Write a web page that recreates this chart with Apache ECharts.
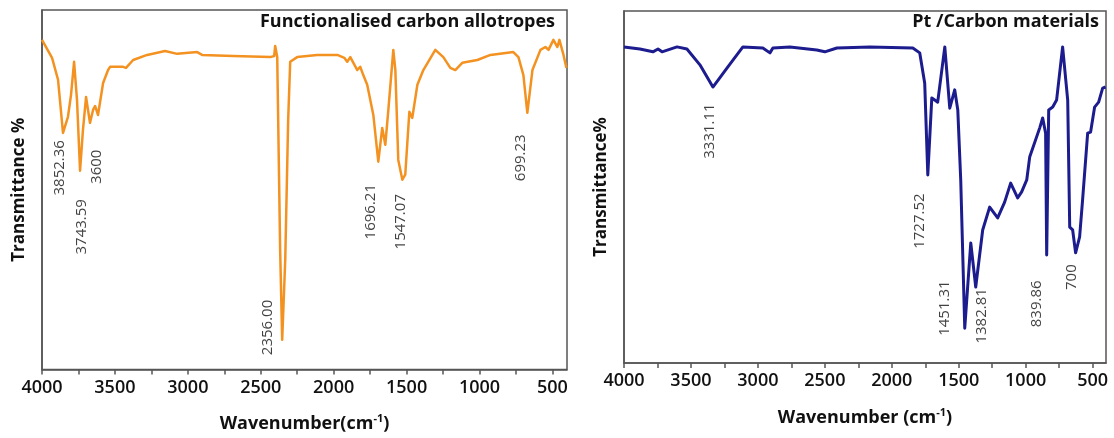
<!DOCTYPE html>
<html>
<head>
<meta charset="utf-8">
<title>FTIR spectra</title>
<script src="https://cdn.jsdelivr.net/npm/echarts@6/dist/echarts.min.js"></script>
<style>
  html, body { margin: 0; padding: 0; background: #fff; }
  #chart { width: 1114px; height: 438px; }
</style>
</head>
<body>
<div id="chart"></div>
<script>
// tick labels on the wavenumber axes, plus the unlabelled ticks between them
var majorTicks = [4000, 3500, 3000, 2500, 2000, 1500, 1000, 500];
var allTicks = [4000, 3750, 3500, 3250, 3000, 2750, 2500, 2250, 2000, 1750, 1500, 1250, 1000, 750, 500];

// left panel: functionalised carbon allotropes
var leftWavenumber = [4000, 3931, 3890, 3856, 3822, 3801, 3780, 3760, 3739, 3719, 3698, 3671, 3650, 3636, 3616, 3581, 3547, 3533, 3444, 3424, 3375, 3279, 3156, 3073, 2936, 2902, 2689, 2435, 2408, 2401, 2387, 2367, 2353, 2332, 2312, 2298, 2250, 2113, 1975, 1927, 1907, 1886, 1838, 1818, 1797, 1770, 1728, 1694, 1667, 1646, 1625, 1591, 1577, 1557, 1529, 1509, 1481, 1461, 1426, 1385, 1303, 1248, 1200, 1166, 1118, 1015, 925, 768, 733, 699, 672, 637, 582, 548, 527, 493, 466, 452, 424, 404];
var leftTransmittance = [91.7, 86.7, 80.6, 65.8, 70.3, 76.4, 85.6, 75, 55.3, 66.7, 75.8, 68.6, 72.2, 73.3, 70.8, 79.7, 83.3, 84.2, 84.2, 83.9, 86.1, 87.5, 88.6, 87.8, 88.3, 87.5, 87.2, 86.9, 87.2, 90, 86.9, 33.3, 8.3, 30.6, 69.4, 85.6, 86.9, 87.5, 87.5, 86.7, 85.6, 86.9, 83.3, 84.2, 81.9, 79.2, 70.8, 57.8, 67.2, 62.5, 72.2, 88.9, 83.3, 58.3, 52.8, 54.2, 71.7, 70, 79.2, 83.3, 88.9, 86.9, 83.9, 83.3, 85.3, 86.1, 87.5, 88.3, 86.9, 81.9, 71.4, 83.3, 88.9, 89.7, 88.9, 91.7, 89.7, 91.7, 87.5, 83.9];
var leftPeakNames = ['3852.36', '3743.59', '3600', '2356.00', '1696.21', '1547.07', '699.23'];
var leftPeakX = [3876, 3725, 3623, 2449, 1749, 1543, 719];
var leftPeakY = [56.1, 39.7, 56.4, 11.7, 43.9, 41.1, 58.9];

// right panel: Pt / carbon materials
var rightWavenumber = [4000, 3881, 3784, 3746, 3716, 3604, 3530, 3433, 3336, 3231, 3112, 2963, 2910, 2888, 2761, 2560, 2500, 2410, 2164, 1843, 1791, 1754, 1731, 1701, 1679, 1657, 1604, 1567, 1530, 1507, 1485, 1455, 1410, 1373, 1321, 1269, 1209, 1157, 1112, 1060, 1030, 992, 970, 895, 873, 851, 843, 828, 798, 769, 724, 686, 671, 649, 627, 597, 575, 537, 515, 485, 455, 425, 403];
var rightTransmittance = [89.8, 89.2, 88.4, 89.2, 88.4, 89.8, 89.2, 84.7, 78.4, 83.8, 89.8, 89.5, 88.1, 89.5, 89.8, 88.9, 88.4, 89.5, 89.8, 89.5, 88.1, 79.5, 53.4, 75.3, 74.7, 74.1, 89.8, 72.4, 77.6, 71.9, 52, 9.9, 34.1, 21.6, 37.8, 44.3, 41.2, 45.7, 51.1, 46.9, 48.6, 52, 58.5, 66.8, 69.6, 65.3, 30.7, 71.9, 72.7, 74.7, 89.8, 74.7, 38.6, 37.8, 31.3, 35.8, 46.3, 65.3, 65.6, 72.7, 74.1, 78.1, 78.4];
var rightPeakNames = ['3331.11', '1727.52', '1451.31', '1382.81', '839.86', '700'];
var rightPeakX = [3358, 1791, 1604, 1328, 918, 657];
var rightPeakY = [65.9, 40.3, 15.6, 13.4, 16.8, 24.4];

function pairs(xs, ys) {
    var out = [];
    for (var i = 0; i < xs.length; i++) out.push([xs[i], ys[i]]);
    return out;
}
function peaks(names, xs, ys) {
    var out = [];
    for (var i = 0; i < names.length; i++) out.push({ name: names[i], value: [xs[i], ys[i]] });
    return out;
}

var font = '"Open Sans", "DejaVu Sans", sans-serif';
var frameColor = '#555';
var textColor = '#111';

function mainX(gridIndex, name) {
    return {
        type: 'value', gridIndex: gridIndex, position: 'bottom', inverse: true, min: 400, max: 4000,
        name: name, nameLocation: 'middle', nameGap: 44,
        nameTextStyle: {
            fontFamily: font, fontSize: 18, fontWeight: 'bold', color: textColor,
            rich: { sup: { fontFamily: font, fontSize: 11, fontWeight: 'bold', color: textColor, verticalAlign: 'top', padding: [0, 0, 10, 0] } }
        },
        axisLine: { show: true, lineStyle: { color: frameColor, width: 1.5 } },
        axisTick: { show: true, length: 5, customValues: allTicks, lineStyle: { color: frameColor, width: 1.5 } },
        axisLabel: {
            customValues: majorTicks, formatter: function (v) { return String(v); },
            fontFamily: font, fontSize: 18, fontWeight: 600, color: textColor, margin: 9
        },
        splitLine: { show: false }
    };
}
function mainY(gridIndex, name, gap) {
    return {
        type: 'value', gridIndex: gridIndex, min: 0, max: 100,
        name: name, nameLocation: 'middle', nameGap: gap,
        nameTextStyle: { fontFamily: font, fontSize: 17, fontWeight: 'bold', color: textColor },
        axisLine: { show: true, lineStyle: { color: frameColor, width: 1.5 } },
        axisTick: { show: false },
        axisLabel: { show: false },
        splitLine: { show: false }
    };
}
function peakSeries(xIndex, yIndex, data) {
    return {
        type: 'scatter', xAxisIndex: xIndex, yAxisIndex: yIndex,
        symbolSize: 0, silent: true, data: data,
        label: {
            show: true, position: 'inside', rotate: 90,
            formatter: '{b}', fontFamily: font, fontSize: 15, color: textColor
        }
    };
}

var myChart = echarts.init(document.getElementById('chart'));
var option = {
    animation: false,
    backgroundColor: '#fff',
    title: [
        { text: 'Functionalised carbon allotropes', right: 554, top: 8,
          textStyle: { fontFamily: font, fontSize: 18, fontWeight: 'bold', color: textColor } },
        { text: 'Pt /Carbon materials', right: 10, top: 8,
          textStyle: { fontFamily: font, fontSize: 18, fontWeight: 'bold', color: textColor } }
    ],
    grid: [
        { left: 42, top: 10, width: 525, height: 360, show: true, borderColor: frameColor, borderWidth: 1.5 },
        { left: 624, top: 11, width: 482, height: 352, show: true, borderColor: frameColor, borderWidth: 1.5 }
    ],
    xAxis: [
        mainX(0, 'Wavenumber(cm{sup|-1})'),
        mainX(1, 'Wavenumber (cm{sup|-1})')
    ],
    yAxis: [
        mainY(0, 'Transmittance %', 14),
        mainY(1, 'Transmittance%', 14)
    ],
    series: [
        {
            type: 'line', xAxisIndex: 0, yAxisIndex: 0, showSymbol: false,
            data: pairs(leftWavenumber, leftTransmittance),
            lineStyle: { color: '#f39220', width: 2.5, join: 'round' }
        },
        {
            type: 'line', xAxisIndex: 1, yAxisIndex: 1, showSymbol: false,
            data: pairs(rightWavenumber, rightTransmittance),
            lineStyle: { color: '#1c1c8f', width: 3, join: 'round' }
        },
        peakSeries(0, 0, peaks(leftPeakNames, leftPeakX, leftPeakY)),
        peakSeries(1, 1, peaks(rightPeakNames, rightPeakX, rightPeakY))
    ]
};
myChart.setOption(option);

window.addEventListener('resize', function () {
    myChart.resize();
});
</script>
</body>
</html>
